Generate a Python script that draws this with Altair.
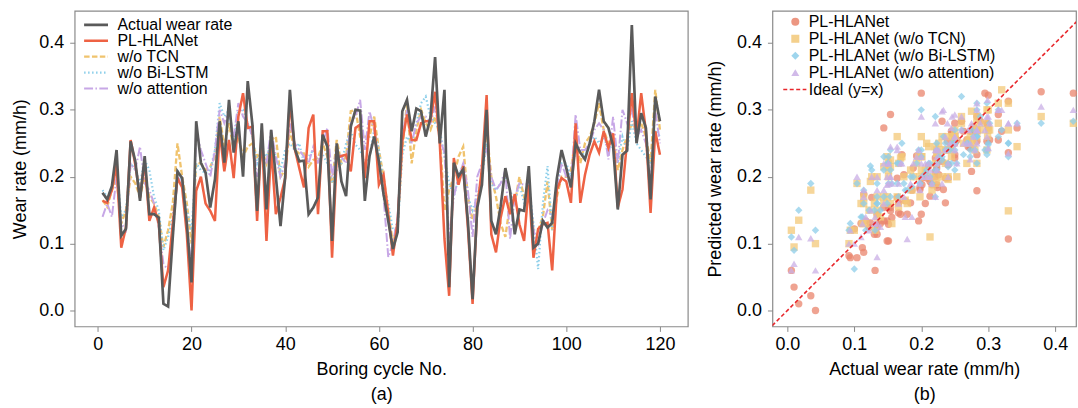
import altair as alt
import pandas as pd

FONT = "Liberation Sans"

cycles = list(range(1, 121))

actual = [
    0.176, 0.166, 0.186, 0.240, 0.112, 0.122, 0.253, 0.223, 0.164, 0.231,
    0.144, 0.144, 0.139, 0.010, 0.006, 0.110, 0.208, 0.198, 0.130, 0.042,
    0.283, 0.221, 0.206, 0.154, 0.196, 0.283, 0.221, 0.315, 0.236, 0.283,
    0.200, 0.343, 0.278, 0.149, 0.280, 0.151, 0.270, 0.200, 0.126, 0.200,
    0.330, 0.243, 0.223, 0.224, 0.144, 0.154, 0.169, 0.263, 0.245, 0.104,
    0.250, 0.193, 0.171, 0.275, 0.300, 0.299, 0.164, 0.231, 0.260, 0.223,
    0.174, 0.134, 0.092, 0.117, 0.298, 0.315, 0.268, 0.302, 0.298, 0.260,
    0.288, 0.379, 0.250, 0.330, 0.035, 0.221, 0.201, 0.211, 0.134, 0.017,
    0.154, 0.188, 0.300, 0.134, 0.114, 0.156, 0.213, 0.179, 0.114, 0.151,
    0.149, 0.216, 0.094, 0.100, 0.134, 0.124, 0.131, 0.198, 0.240, 0.213,
    0.184, 0.250, 0.236, 0.226, 0.250, 0.283, 0.330, 0.283, 0.273, 0.246,
    0.151, 0.233, 0.239, 0.427, 0.250, 0.295, 0.273, 0.166, 0.320, 0.283,
]

pl_hlanet = [
    0.164, 0.161, 0.180, 0.218, 0.094, 0.124, 0.255, 0.218, 0.169, 0.223,
    0.134, 0.154, 0.130, 0.035, 0.060, 0.130, 0.198, 0.184, 0.114, 0.000,
    0.179, 0.200, 0.160, 0.149, 0.134, 0.268, 0.208, 0.255, 0.198, 0.290,
    0.325, 0.273, 0.275, 0.134, 0.268, 0.104, 0.245, 0.144, 0.169, 0.198,
    0.313, 0.243, 0.213, 0.184, 0.273, 0.293, 0.144, 0.268, 0.268, 0.079,
    0.228, 0.231, 0.233, 0.208, 0.273, 0.278, 0.198, 0.283, 0.283, 0.188,
    0.203, 0.144, 0.082, 0.134, 0.253, 0.293, 0.255, 0.255, 0.280, 0.283,
    0.283, 0.327, 0.250, 0.107, 0.022, 0.228, 0.188, 0.216, 0.124, 0.010,
    0.154, 0.213, 0.322, 0.114, 0.087, 0.139, 0.171, 0.144, 0.174, 0.129,
    0.104, 0.188, 0.079, 0.122, 0.129, 0.131, 0.060, 0.181, 0.198, 0.193,
    0.161, 0.280, 0.161, 0.203, 0.233, 0.253, 0.236, 0.268, 0.243, 0.265,
    0.154, 0.181, 0.253, 0.325, 0.258, 0.325, 0.268, 0.146, 0.268, 0.233,
]

wo_tcn = [
    0.165, 0.155, 0.180, 0.196, 0.130, 0.150, 0.200, 0.190, 0.170, 0.200,
    0.170, 0.160, 0.140, 0.095, 0.120, 0.160, 0.250, 0.200, 0.160, 0.100,
    0.220, 0.220, 0.210, 0.215, 0.230, 0.290, 0.245, 0.280, 0.240, 0.260,
    0.230, 0.245, 0.250, 0.230, 0.240, 0.220, 0.255, 0.260, 0.200, 0.210,
    0.270, 0.240, 0.235, 0.235, 0.215, 0.225, 0.228, 0.250, 0.230, 0.190,
    0.255, 0.220, 0.230, 0.298, 0.300, 0.260, 0.260, 0.260, 0.290, 0.240,
    0.200, 0.150, 0.100, 0.130, 0.240, 0.310, 0.220, 0.270, 0.300, 0.280,
    0.270, 0.290, 0.260, 0.149, 0.180, 0.200, 0.230, 0.245, 0.170, 0.135,
    0.160, 0.200, 0.270, 0.200, 0.170, 0.130, 0.110, 0.160, 0.160, 0.200,
    0.170, 0.180, 0.120, 0.120, 0.140, 0.193, 0.120, 0.170, 0.200, 0.200,
    0.210, 0.260, 0.220, 0.250, 0.260, 0.280, 0.310, 0.270, 0.250, 0.260,
    0.210, 0.240, 0.260, 0.280, 0.270, 0.280, 0.260, 0.220, 0.330, 0.270,
]

wo_bilstm = [
    0.180, 0.170, 0.185, 0.215, 0.140, 0.150, 0.220, 0.210, 0.190, 0.225,
    0.210, 0.170, 0.150, 0.090, 0.110, 0.140, 0.210, 0.190, 0.150, 0.120,
    0.220, 0.210, 0.205, 0.210, 0.240, 0.310, 0.290, 0.300, 0.250, 0.300,
    0.300, 0.280, 0.260, 0.220, 0.240, 0.230, 0.250, 0.230, 0.210, 0.240,
    0.250, 0.240, 0.250, 0.220, 0.230, 0.240, 0.220, 0.233, 0.220, 0.190,
    0.210, 0.220, 0.250, 0.270, 0.248, 0.240, 0.220, 0.230, 0.270, 0.240,
    0.190, 0.160, 0.120, 0.120, 0.233, 0.260, 0.250, 0.280, 0.310, 0.320,
    0.290, 0.280, 0.270, 0.230, 0.190, 0.170, 0.200, 0.220, 0.170, 0.150,
    0.170, 0.200, 0.250, 0.190, 0.180, 0.190, 0.200, 0.180, 0.160, 0.190,
    0.160, 0.190, 0.130, 0.062, 0.160, 0.216, 0.120, 0.190, 0.220, 0.220,
    0.200, 0.240, 0.240, 0.230, 0.250, 0.260, 0.250, 0.260, 0.240, 0.250,
    0.220, 0.260, 0.240, 0.283, 0.250, 0.240, 0.230, 0.220, 0.270, 0.260,
]

wo_attention = [
    0.140, 0.160, 0.140, 0.200, 0.130, 0.120, 0.220, 0.210, 0.245, 0.190,
    0.180, 0.160, 0.125, 0.070, 0.060, 0.110, 0.200, 0.190, 0.130, 0.060,
    0.270, 0.240, 0.220, 0.200, 0.240, 0.300, 0.280, 0.300, 0.260, 0.310,
    0.290, 0.280, 0.260, 0.200, 0.240, 0.220, 0.270, 0.230, 0.200, 0.220,
    0.280, 0.250, 0.240, 0.230, 0.220, 0.245, 0.220, 0.250, 0.273, 0.200,
    0.240, 0.230, 0.220, 0.280, 0.290, 0.315, 0.240, 0.298, 0.270, 0.220,
    0.170, 0.080, 0.100, 0.140, 0.260, 0.300, 0.250, 0.280, 0.290, 0.290,
    0.280, 0.305, 0.260, 0.235, 0.108, 0.170, 0.200, 0.220, 0.180, 0.110,
    0.200, 0.220, 0.243, 0.200, 0.180, 0.190, 0.210, 0.107, 0.170, 0.190,
    0.188, 0.190, 0.120, 0.100, 0.130, 0.150, 0.140, 0.180, 0.220, 0.200,
    0.190, 0.293, 0.240, 0.240, 0.250, 0.270, 0.280, 0.270, 0.226, 0.290,
    0.220, 0.300, 0.280, 0.300, 0.260, 0.270, 0.250, 0.190, 0.300, 0.250,
]

for arr in (actual, pl_hlanet, wo_tcn, wo_bilstm, wo_attention):
    assert len(arr) == 120, len(arr)

series_names = ["Actual wear rate", "PL-HLANet", "w/o TCN", "w/o Bi-LSTM", "w/o attention"]
series_colors = ["#5a5a5a", "#EE6244", "#F0C36D", "#8DCFEA", "#C7A7E6"]
series_dash = [[1, 0], [1, 0], [5.5, 2.4], [1.5, 2.5], [9, 2.4, 1.5, 2.4]]
series_width = [2.7, 2.0, 1.6, 1.6, 1.6]

scatter_names = ["PL-HLANet", "PL-HLANet (w/o TCN)", "PL-HLANet (w/o Bi-LSTM)", "PL-HLANet (w/o attention)"]
scatter_colors = ["#E9846C", "#F3C878", "#8ECEEA", "#C9AFE6"]
scatter_shapes = ["circle", "square", "diamond", "triangle-up"]
ideal_label = "Ideal (y=x)"
ideal_ends = [-0.05, 0.5]

x_ticks_a = [0, 20, 40, 60, 80, 100, 120]
y_ticks = [0.0, 0.1, 0.2, 0.3, 0.4]
x_ticks_b = [0.0, 0.1, 0.2, 0.3, 0.4]

# ---------- data tables ----------
line_series = [actual, pl_hlanet, wo_tcn, wo_bilstm, wo_attention]
line_rows = []
for name, vals in zip(series_names, line_series):
    for c, v in zip(cycles, vals):
        line_rows.append({"cycle": c, "value": v, "series": name})
df_line = pd.DataFrame(line_rows)

sc_rows = []
for name, vals in zip(scatter_names, line_series[1:]):
    for a, p in zip(actual, vals):
        sc_rows.append({"actual": a, "pred": p, "model": name})
df_sc = pd.DataFrame(sc_rows)

df_ideal = pd.DataFrame({"v": ideal_ends, "label": [ideal_label] * len(ideal_ends)})

# ---------- panel (a) ----------
y_scale = alt.Scale(domain=[-0.0238, 0.448], nice=False, zero=False)
xa_scale = alt.Scale(domain=[-4.95, 125.95], nice=False, zero=False)

leg_line = alt.Legend(
    orient="none", legendX=13.5, legendY=6, title=None, padding=0,
    labelFontSize=16, labelFont=FONT, labelColor="black", labelLimit=0,
    symbolType="M-1.875,0L1.875,0", symbolSize=164, rowPadding=0, labelOffset=13.5,
)

enc_a = dict(
    x=alt.X("cycle:Q", scale=xa_scale,
            axis=alt.Axis(values=x_ticks_a, title=["Boring cycle No.", "(a)"],
                          titlePadding=7, labelPadding=4)),
    y=alt.Y("value:Q", scale=y_scale,
            axis=alt.Axis(values=y_ticks, format=".1f", title="Wear rate (mm/h)",
                          titlePadding=9, labelPadding=6)),
    color=alt.Color("series:N", title=None,
                    scale=alt.Scale(domain=series_names, range=series_colors), legend=leg_line),
    strokeDash=alt.StrokeDash("series:N", title=None,
                              scale=alt.Scale(domain=series_names, range=series_dash), legend=leg_line),
    strokeWidth=alt.StrokeWidth("series:N", title=None,
                                scale=alt.Scale(domain=series_names, range=series_width), legend=leg_line),
)

base_a = alt.Chart(df_line)
pale = base_a.mark_line(clip=True).encode(**enc_a).transform_filter(
    alt.FieldOneOfPredicate(field="series", oneOf=series_names[2:]))
red = base_a.mark_line(clip=True).encode(**enc_a).transform_filter(
    alt.FieldEqualPredicate(field="series", equal=series_names[1]))
black = base_a.mark_line(clip=True).encode(**enc_a).transform_filter(
    alt.FieldEqualPredicate(field="series", equal=series_names[0]))

left = alt.layer(pale, red, black).properties(width=616, height=317)

# ---------- panel (b) ----------
xb_scale = alt.Scale(domain=[-0.0223, 0.431], nice=False, zero=False)

leg_sc = alt.Legend(
    orient="none", legendX=15, legendY=3, title=None, padding=0,
    labelFontSize=16, labelFont=FONT, labelColor="black", labelLimit=0,
    symbolSize=65, rowPadding=1, labelOffset=5.5, symbolOpacity=0.85,
)
leg_ideal = alt.Legend(
    orient="none", legendX=13.5, legendY=70, title=None, padding=0,
    labelFontSize=16, labelFont=FONT, labelColor="black", labelLimit=0,
    symbolType="M-1.45,0L1.45,0", symbolSize=256, symbolStrokeColor="#E8262B",
    symbolStrokeWidth=1.6, labelOffset=5,
)

xb_axis = alt.Axis(values=x_ticks_b, format=".1f", title=["Actual wear rate (mm/h)", "(b)"],
                   titlePadding=7, labelPadding=4)
yb_axis = alt.Axis(values=y_ticks, format=".1f", title="Predicted wear rate (mm/h)",
                   titlePadding=12, labelPadding=6)

pts = alt.Chart(df_sc).mark_point(filled=True, opacity=0.75, size=55).encode(
    x=alt.X("actual:Q", scale=xb_scale, axis=xb_axis),
    y=alt.Y("pred:Q", scale=y_scale, axis=yb_axis),
    color=alt.Color("model:N", title=None,
                    scale=alt.Scale(domain=scatter_names, range=scatter_colors), legend=leg_sc),
    shape=alt.Shape("model:N", title=None,
                    scale=alt.Scale(domain=scatter_names, range=scatter_shapes), legend=leg_sc),
)

ideal = alt.Chart(df_ideal).mark_line(color="#E8262B", strokeWidth=1.6, clip=True).encode(
    x=alt.X("v:Q", scale=xb_scale, axis=xb_axis),
    y=alt.Y("v:Q", scale=y_scale, axis=yb_axis),
    strokeDash=alt.StrokeDash("label:N", title=None,
                              scale=alt.Scale(domain=[ideal_label], range=[[4, 2.5]]),
                              legend=leg_ideal),
)

right = alt.layer(pts, ideal).properties(width=305, height=317)

chart = (
    alt.hconcat(left, right, spacing=17)
    .resolve_scale(color="independent", shape="independent",
                   strokeDash="independent", strokeWidth="independent",
                   x="independent", y="independent")
    .resolve_legend(color="independent", shape="independent",
                    strokeDash="independent", strokeWidth="independent")
    .properties(padding={"left": 11, "top": 9, "right": 0, "bottom": 0}, background="white")
    .configure(font=FONT)
    .configure_view(stroke="#8a8a8a", strokeWidth=1.2)
    .configure_axis(
        labelFont=FONT, titleFont=FONT, labelFontSize=18, titleFontSize=18,
        titleFontWeight="normal", labelColor="black", titleColor="black",
        tickColor="#888888", tickSize=5, tickWidth=1, domain=False, grid=False,
        titleLineHeight=25,
    )
)

chart.save("out.html", embed_options={"renderer": "svg", "actions": False})
